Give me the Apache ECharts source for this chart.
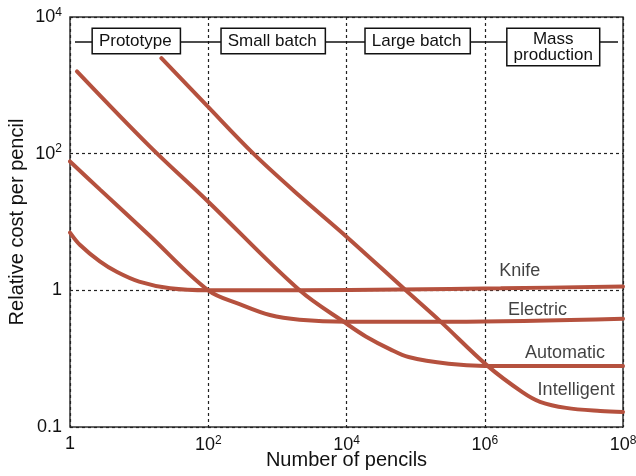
<!DOCTYPE html>
<html><head><meta charset="utf-8">
<script src="https://cdn.jsdelivr.net/npm/echarts@6/dist/echarts.min.js"></script>
<style>html,body{margin:0;padding:0;background:#fff}#c{width:636px;height:476px}</style>
</head><body><div id="c"></div>
<script>
// ---- tick labels ----
const xTickLabels = ['{n|1}', '{n|10}{sup|2}', '{n|10}{sup|4}', '{n|10}{sup|6}', '{n|10}{sup|8}'];
const yTickLabels = ['{n|0.1}', '{n|1}', '{n|10}{sup|2}', '{n|10}{sup|4}'];

// ---- series (number of pencils, relative cost per pencil) ----
const knifePencils = [1, 1.4, 2.7, 4.8, 10, 28, 100, 2100, 59000, 1.7e6, 1e8];
const knifeCost    = [7.0, 4.6, 2.65, 1.85, 1.34, 1.07, 1.0, 1.0, 1.03, 1.07, 1.14];

const electricPencils = [1, 2.7, 14, 100, 290, 780, 2100, 1e4, 3.2e5, 1e8];
const electricCost    = [77, 30, 6.4, 1.0, 0.79, 0.66, 0.61, 0.59, 0.59, 0.62];

const automaticPencils = [1.26, 14, 100, 2100, 1e4, 1.9e4, 4.3e4, 7.9e4, 3.0e5, 1e6, 1e8];
const automaticCost    = [1600, 130, 19.8, 1.0, 0.57, 0.46, 0.37, 0.325, 0.29, 0.28, 0.28];

const intelligentPencils = [21, 95, 450, 2100, 1e4, 7.2e4, 2.3e5, 1.1e6, 3.5e6, 6.3e6, 1.5e7, 4.7e7, 1e8];
const intelligentCost    = [2500, 508, 100, 24, 6.1, 1.0, 0.59, 0.28, 0.18, 0.153, 0.138, 0.131, 0.129];

const seriesNames = ['Knife', 'Electric', 'Automatic', 'Intelligent'];
// where each curve's name is written (pencils, cost)
const labelPencils = [3.2e6, 5.8e6, 1.45e7, 2.1e7];
const labelCost    = [1.9, 0.72, 0.35, 0.185];

// ---- production phases along the top ----
const phaseNames = ['Prototype', 'Small batch', 'Large batch', 'Mass\nproduction'];
const phaseCentrePencils = [9.1, 870, 1.07e5, 9.8e6];

// axis transforms: x is log10(pencils); y has equal spacing for 0.1, 1, 10^2, 10^4
const lx = n => Math.log10(n);
const ly = v => v <= 1 ? Math.log10(v) + 1 : 1 + Math.log10(v) / 2;

const curves = [
  [knifePencils, knifeCost],
  [electricPencils, electricCost],
  [automaticPencils, automaticCost],
  [intelligentPencils, intelligentCost]
];

const FONT = 'Liberation Sans, Arial, Helvetica, sans-serif';
const TXT = '#111';
const RED = '#b5513e';

const lineSeries = curves.map((c, i) => ({
  name: seriesNames[i],
  type: 'line',
  data: c[0].map((n, j) => [lx(n), ly(c[1][j])]),
  showSymbol: false,
  smooth: 0.35,
  lineStyle: { color: RED, width: 4, cap: 'round' },
  itemStyle: { color: RED },
  z: 3
}));

const labelSeries = {
  type: 'scatter',
  data: seriesNames.map((nm, i) => [lx(labelPencils[i]), ly(labelCost[i]), nm]),
  symbolSize: 1,
  itemStyle: { color: 'transparent' },
  label: {
    show: true, position: 'inside', formatter: p => p.value[2],
    fontFamily: FONT, fontSize: 18, color: TXT, textBorderWidth: 0
  },
  silent: true,
  z: 4
};

const phaseSeries = {
  type: 'custom',
  data: phaseNames.map((nm, i) => [lx(phaseCentrePencils[i]), 3]),
  renderItem: function (params, api) {
    const c = api.coord([api.value(0), 3]);
    const top = c[1] + 12;
    const children = [];
    if (params.dataIndex === 0) {
      const l = api.coord([0, 3]), r = api.coord([8, 3]);
      children.push({
        type: 'line',
        shape: { x1: l[0] + 5, y1: top + 13, x2: r[0] - 5, y2: top + 13 },
        style: { stroke: TXT, lineWidth: 1.3 },
        z2: 1
      });
    }
    const nm = phaseNames[params.dataIndex];
    const two = nm.indexOf('\n') >= 0;
    children.push({
      type: 'text',
      x: c[0], y: top,
      style: {
        text: nm, fontFamily: FONT, fontSize: 17, fill: TXT,
        align: 'center', verticalAlign: 'top', lineHeight: two ? 16 : 17,
        backgroundColor: '#fff', borderColor: TXT, borderWidth: 1.5,
        padding: two ? [2, 6, 2, 6] : [3.5, 8, 3.5, 6]
      },
      z2: 2
    });
    return { type: 'group', children: children };
  },
  silent: true,
  z: 5
};

const richTicks = {
  n: { fontSize: 18, fontFamily: FONT, color: TXT },
  sup: { fontSize: 12, fontFamily: FONT, color: TXT, verticalAlign: 'top', padding: [0, 0, 9, 0] }
};

const option = {
  animation: false,
  backgroundColor: '#fff',
  grid: {
    left: 70, right: 13, top: 17, bottom: 49, containLabel: false, outerBoundsMode: 'none',
    show: true, borderColor: '#333', borderWidth: 1.5, backgroundColor: 'transparent'
  },
  xAxis: {
    type: 'value', min: 0, max: 8, interval: 2,
    name: 'Number of pencils', nameLocation: 'middle', nameGap: 23, nameMoveOverlap: false,
    nameTextStyle: { fontFamily: FONT, fontSize: 20, color: TXT },
    axisLine: { show: false }, axisTick: { show: false },
    axisLabel: {
      formatter: v => xTickLabels[Math.round(v / 2)],
      fontFamily: FONT, fontSize: 18, color: TXT, margin: 8, rich: richTicks
    },
    splitLine: { show: true, lineStyle: { color: '#222', width: 1.2, type: [3, 3] } }
  },
  yAxis: {
    type: 'value', min: 0, max: 3, interval: 1,
    name: 'Relative cost per pencil', nameLocation: 'middle', nameGap: 43, nameMoveOverlap: false,
    nameTextStyle: { fontFamily: FONT, fontSize: 20, color: TXT },
    axisLine: { show: false }, axisTick: { show: false },
    axisLabel: {
      formatter: v => yTickLabels[Math.round(v)],
      fontFamily: FONT, fontSize: 18, color: TXT, margin: 8, rich: richTicks
    },
    splitLine: { show: true, lineStyle: { color: '#222', width: 1.2, type: [3, 3] } }
  },
  series: [...lineSeries, labelSeries, phaseSeries]
};

const chart = echarts.init(document.getElementById('c'), null, { renderer: 'canvas' });
chart.setOption(option);
</script>
</body></html>
